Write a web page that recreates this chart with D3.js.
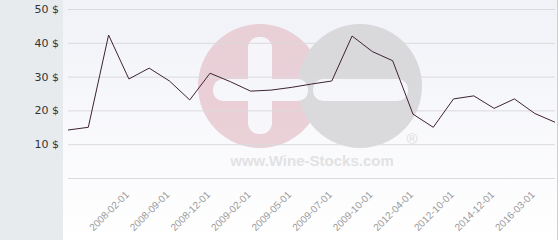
<!DOCTYPE html>
<html>
<head>
<meta charset="utf-8">
<script src="https://cdn.jsdelivr.net/npm/d3@7"></script>
<style>
  body { margin: 0; background: #fff; }
  svg { display: block; }
</style>
</head>
<body>
<svg id="chart"></svg>
<script>
// price per point, in $ (25 points, evenly spaced)
const prices = [14.2, 15.0, 42.3, 29.3, 32.5, 28.7, 23.1, 31.0, 28.5, 25.7,
                26.0, 26.8, 27.8, 28.7, 42.0, 37.4, 34.7, 18.9, 15.0, 23.4,
                24.3, 20.6, 23.4, 19.1, 16.5];
// only every other point carries a date label
const tickIndex = [2, 4, 6, 8, 10, 12, 14, 16, 18, 20, 22];
const tickLabels = ["2008-02-01", "2008-09-01", "2008-12-01", "2009-02-01", "2009-05-01",
                    "2009-07-01", "2009-10-01", "2012-04-01", "2012-10-01", "2014-12-01",
                    "2016-03-01"];
const yTicks = [0, 10, 20, 30, 40, 50];

const W = 560, H = 240;
const panelW = 63;
const plotLeft = 68, plotRight = 555, plotRightEdge = 557;

const svg = d3.select("#chart").attr("width", W).attr("height", H);

// gradient for the plot background
const defs = svg.append("defs");
const grad = defs.append("linearGradient").attr("id", "bg").attr("x1", 0).attr("y1", 0).attr("x2", 0).attr("y2", 1);
grad.append("stop").attr("offset", "0%").attr("stop-color", "#f1f2f8");
grad.append("stop").attr("offset", "100%").attr("stop-color", "#ffffff");

// left grey panel + plot area
svg.append("rect").attr("x", 0).attr("y", 0).attr("width", panelW).attr("height", H).attr("fill", "#e7ebee");
svg.append("rect").attr("x", panelW).attr("y", 0).attr("width", plotRightEdge - panelW).attr("height", H).attr("fill", "url(#bg)");
svg.append("line").attr("x1", plotRightEdge + 0.5).attr("x2", plotRightEdge + 0.5).attr("y1", 0).attr("y2", H)
  .attr("stroke", "#cfcfcf");

// watermark
const wm = svg.append("g").attr("opacity", 0.85);
wm.append("circle").attr("cx", 260).attr("cy", 86).attr("r", 62).attr("fill", "#e8c9d1");
wm.append("circle").attr("cx", 360).attr("cy", 86).attr("r", 62).attr("fill", "#d5d5d7");
wm.append("rect").attr("x", 248).attr("y", 37).attr("width", 24).attr("height", 97).attr("rx", 11).attr("fill", "#f7f7fb");
wm.append("rect").attr("x", 213).attr("y", 79).attr("width", 95).attr("height", 22).attr("rx", 10).attr("fill", "#f7f7fb");
wm.append("rect").attr("x", 313).attr("y", 79).attr("width", 95).attr("height", 22).attr("rx", 10).attr("fill", "#f7f7fb");
wm.append("text").attr("x", 312).attr("y", 166).attr("text-anchor", "middle")
  .attr("font-family", "Liberation Sans, Arial, sans-serif").attr("font-weight", "bold").attr("font-size", 15)
  .attr("fill", "#dedede").text("www.Wine-Stocks.com");
wm.append("text").attr("x", 412).attr("y", 144).attr("text-anchor", "middle")
  .attr("font-family", "Liberation Sans, Arial, sans-serif").attr("font-size", 15)
  .attr("fill", "#d8d8d8").text("®");

// scales
const x = d3.scalePoint().domain(d3.range(prices.length)).range([plotLeft, plotRight]);
const y = d3.scaleLinear().domain([0, 50]).range([178, 9]);

// y axis with gridlines
const yAxis = d3.axisLeft(y)
  .tickValues(yTicks)
  .tickSize(-(plotRight - plotLeft))
  .tickPadding(9)
  .tickFormat(d => d ? d + " $" : "");

const gy = svg.append("g").attr("transform", `translate(${plotLeft},0)`).call(yAxis);
gy.select(".domain").remove();
gy.selectAll(".tick line").attr("stroke", "#dadadd");
gy.selectAll(".tick text")
  .attr("fill", "#333")
  .attr("font-family", "DejaVu Sans, sans-serif")
  .attr("font-size", 11);

// x axis labels, rotated around their centre
const xAxis = d3.axisBottom(x)
  .tickValues(tickIndex)
  .tickSize(0)
  .tickFormat((d, i) => tickLabels[i]);

const gx = svg.append("g").attr("transform", "translate(0,211)").call(xAxis);
gx.select(".domain").remove();
gx.selectAll(".tick text")
  .attr("y", 0)
  .attr("dy", "0.35em")
  .attr("text-anchor", "middle")
  .attr("transform", "rotate(-45)")
  .attr("fill", "#9a9a9a")
  .attr("font-family", "Liberation Sans, Arial, sans-serif")
  .attr("font-size", 10);

// price line
const line = d3.line().x((d, i) => x(i)).y(d => y(d));
svg.append("path")
  .datum(prices)
  .attr("d", line)
  .attr("fill", "none")
  .attr("stroke", "#3e2233")
  .attr("stroke-width", 1);
</script>
</body>
</html>
